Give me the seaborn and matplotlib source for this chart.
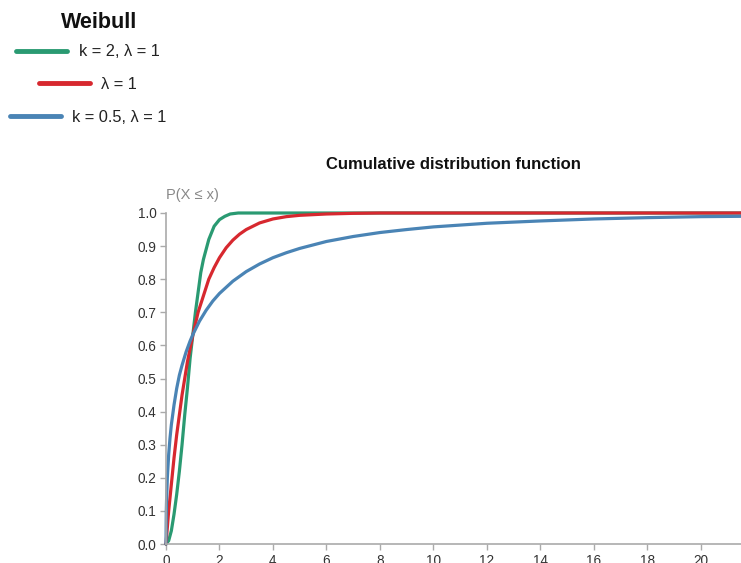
import pandas as pd
import seaborn as sns
import matplotlib.pyplot as plt
from matplotlib.lines import Line2D

# Values
x_k2 = [0, 0.1, 0.2, 0.3, 0.4, 0.5, 0.6, 0.7, 0.8, 0.9, 1.0, 1.1, 1.2, 1.3, 1.4, 1.5, 1.6, 1.7,
        1.8, 1.9, 2.0, 2.2, 2.4, 2.7, 21.5]
y_k2 = [0, 0.01, 0.04, 0.09, 0.15, 0.22, 0.30, 0.39, 0.47, 0.56, 0.63, 0.70, 0.76, 0.82, 0.86,
        0.89, 0.92, 0.94, 0.96, 0.97, 0.98, 0.99, 0.997, 1.0, 1.0]

x_k1 = [0, 0.1, 0.2, 0.3, 0.4, 0.5, 0.6, 0.7, 0.8, 0.9, 1.0, 1.2, 1.4, 1.6, 1.8, 2.0, 2.25,
        2.5, 2.75, 3, 3.5, 4, 4.5, 5, 6, 7, 8, 21.5]
y_k1 = [0, 0.10, 0.18, 0.26, 0.33, 0.39, 0.45, 0.50, 0.55, 0.59, 0.63, 0.70, 0.75, 0.80, 0.835,
        0.865, 0.895, 0.918, 0.936, 0.95, 0.97, 0.982, 0.989, 0.993, 0.997, 0.999, 1.0, 1.0]

x_k05 = [0, 0.01, 0.02, 0.05, 0.1, 0.15, 0.2, 0.3, 0.4, 0.5, 0.6, 0.75, 0.9, 1, 1.25, 1.5,
         1.75, 2, 2.5, 3, 3.5, 4, 4.5, 5, 6, 7, 8, 9, 10, 12, 14, 16, 18, 20, 21.5]
y_k05 = [0, 0.095, 0.13, 0.20, 0.27, 0.32, 0.36, 0.42, 0.47, 0.51, 0.54, 0.58, 0.613, 0.632,
         0.673, 0.706, 0.734, 0.757, 0.794, 0.823, 0.846, 0.865, 0.88, 0.893, 0.914, 0.929,
         0.941, 0.95, 0.958, 0.969, 0.976, 0.982, 0.986, 0.989, 0.99]

labels = ["k = 2, λ = 1", "λ = 1", "k = 0.5, λ = 1"]
colors = ["#2a9a72", "#d7282f", "#4a84b5"]

df = pd.concat([
    pd.DataFrame({"x": x_k2, "y": y_k2, "series": labels[0]}),
    pd.DataFrame({"x": x_k1, "y": y_k1, "series": labels[1]}),
    pd.DataFrame({"x": x_k05, "y": y_k05, "series": labels[2]}),
])

sns.set_theme(style="white")
plt.rcParams["font.family"] = ["Liberation Sans", "DejaVu Sans"]

fig = plt.figure(figsize=(7.41, 5.63), dpi=100)
ax = fig.add_axes([166 / 741, 19 / 563, 1 - 166 / 741, 331 / 563])

sns.lineplot(data=df, x="x", y="y", hue="series", hue_order=labels,
             palette=dict(zip(labels, colors)), linewidth=2.3,
             sort=False, legend=False, ax=ax)
for line in ax.lines:
    line.set_clip_on(False)

ax.set_xlim(0, 21.5)
ax.set_ylim(0, 1)
ax.set_xticks(range(0, 21, 2))
ax.set_yticks([i / 10 for i in range(11)])
ax.set_yticklabels([f"{i / 10:.1f}" for i in range(11)])
ax.set_xlabel("")
ax.set_ylabel("")
sns.despine(ax=ax)
for side in ["left", "bottom"]:
    ax.spines[side].set_color("#aaaaaa")
    ax.spines[side].set_linewidth(1.2)
ax.tick_params(axis="both", direction="out", length=4.5, width=1, color="#aaaaaa",
               labelsize=9.8, labelcolor="#333333", pad=2.5)
ax.tick_params(axis="both", which="both", left=True, bottom=True)

ax.set_title("Cumulative distribution function", fontsize=12, fontweight="bold",
             pad=32, color="#111111")
ax.text(0, 1.033, "P(X ≤ x)", transform=ax.transAxes, fontsize=10.5,
        color="#888888", ha="left", va="bottom")

# Legend block in the top-left corner
fig.text(99 / 741, 1 - 22 / 563, "Weibull", fontsize=15.5, fontweight="bold",
         ha="center", va="center", color="#111111")
for i, (lab, col) in enumerate(zip(labels, colors)):
    y_pos = 1 - (52 + i * 32.5) / 563
    leg = fig.legend([Line2D([], [], color=col, linewidth=3.5)], [lab],
                     loc="center", bbox_to_anchor=(88 / 741, y_pos),
                     frameon=False, fontsize=11.8, handlelength=3.1,
                     handletextpad=0.7, borderpad=0, borderaxespad=0)
    for t in leg.get_texts():
        t.set_color("#222222")

fig.savefig("out.png", dpi=100)
